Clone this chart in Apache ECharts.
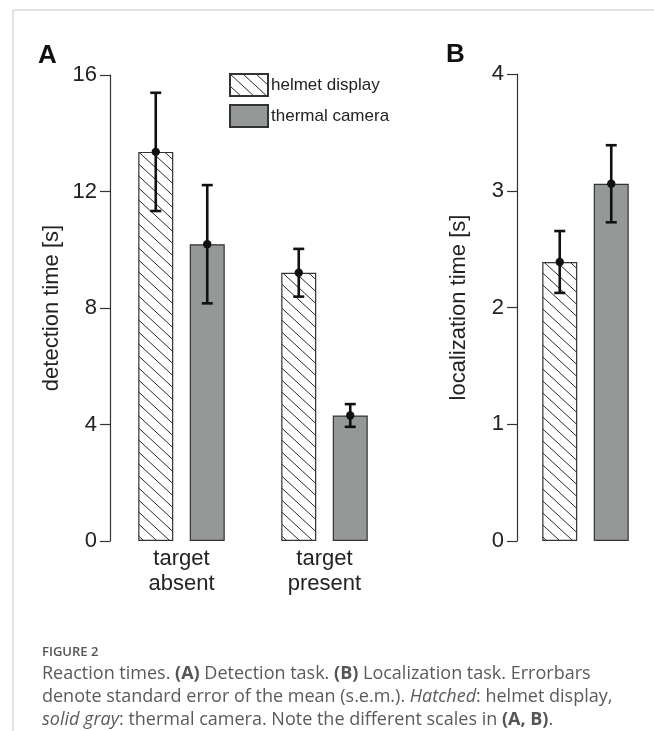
<!DOCTYPE html>
<html><head><meta charset="utf-8">
<script src="https://cdn.jsdelivr.net/npm/echarts@6/dist/echarts.min.js"></script>
<style>html,body{margin:0;padding:0;background:#fff}#c{width:654px;height:731px}</style>
</head><body><div id="c"></div>
<script>
// ---- data ----
const categoriesA = ['target\nabsent', 'target\npresent'];
const categoriesB = [''];
const seriesNames = ['helmet display', 'thermal camera'];
const helmetA = [13.36, 9.21];
const helmetAErr = [2.03, 0.82];
const thermalA = [10.19, 4.31];
const thermalAErr = [2.03, 0.39];
const helmetB = [2.39];
const helmetBErr = [0.265];
const thermalB = [3.06];
const thermalBErr = [0.33];
const ticksA = [0, 4, 8, 12, 16];
const ticksB = [0, 1, 2, 3, 4];

// ---- style ----
const FONT = 'Liberation Sans, Arial, sans-serif';
const GRAY = '#949896';
const BAR_W = 35, GAP_PX = 16.5;
const OFF = (BAR_W + GAP_PX) / 2;

function hatch() {
  const w = 13, h = 12;
  const c = document.createElement('canvas');
  c.width = w; c.height = h;
  const g = c.getContext('2d');
  g.fillStyle = '#fff'; g.fillRect(0, 0, w, h);
  g.strokeStyle = '#2a2a2a'; g.lineWidth = 1;
  g.beginPath();
  g.moveTo(-w, -h); g.lineTo(2 * w, 2 * h);
  g.moveTo(-w, 0); g.lineTo(w, 2 * h);
  g.moveTo(0, -h); g.lineTo(2 * w, h);
  g.stroke();
  return c;
}
const HATCH = { image: hatch(), repeat: 'repeat' };

function errRender(offset) {
  return function (params, api) {
    const x = api.value(0), m = api.value(1), e = api.value(2);
    const t = api.coord([x, m + e]), b = api.coord([x, m - e]), c = api.coord([x, m]);
    const cx = c[0] + offset;
    const st = { stroke: '#111', lineWidth: 2.6 };
    return { type: 'group', children: [
      { type: 'line', shape: { x1: cx, y1: t[1], x2: cx, y2: b[1] }, style: st },
      { type: 'line', shape: { x1: cx - 5.5, y1: t[1], x2: cx + 5.5, y2: t[1] }, style: st },
      { type: 'line', shape: { x1: cx - 5.5, y1: b[1], x2: cx + 5.5, y2: b[1] }, style: st },
      { type: 'circle', shape: { cx: cx, cy: c[1], r: 4.2 }, style: { fill: '#111' } }
    ]};
  };
}
function errData(vals, errs) { return vals.map((v, i) => [i, v, errs[i]]); }

function yAxis(ticks, name, idx) {
  return {
    type: 'value', gridIndex: idx, min: ticks[0], max: ticks[ticks.length - 1],
    interval: ticks[1] - ticks[0], name: name, nameLocation: 'middle', nameGap: 47,
    nameTextStyle: { fontSize: 22, color: '#222', fontFamily: FONT },
    axisLine: { show: true, lineStyle: { color: '#333', width: 1.2 } },
    axisTick: { show: true, length: 10, lineStyle: { color: '#333', width: 1.2 } },
    axisLabel: { fontSize: 22, color: '#222', margin: 13, fontFamily: FONT },
    splitLine: { show: false }
  };
}
function xAxis(cats, idx, show) {
  return {
    type: 'category', gridIndex: idx, data: cats,
    axisLine: { show: false }, axisTick: { show: false },
    axisLabel: { show: show, fontSize: 22, lineHeight: 25, color: '#222', margin: 5, fontFamily: FONT }
  };
}
function bars(name, vals, idx, fill) {
  return {
    type: 'bar', name: name, xAxisIndex: idx, yAxisIndex: idx, data: vals,
    barWidth: BAR_W, barGap: (GAP_PX / BAR_W * 100) + '%',
    itemStyle: { color: fill, borderColor: '#333', borderWidth: 1.2 },
    emphasis: { disabled: true }, animation: false
  };
}
function errs(vals, e, idx, offset) {
  return {
    type: 'custom', xAxisIndex: idx, yAxisIndex: idx, data: errData(vals, e),
    renderItem: errRender(offset), z: 10, animation: false,
    encode: { x: 0, y: 1 }
  };
}

const chart = echarts.init(document.getElementById('c'), null, { renderer: 'canvas' });
chart.setOption({
  backgroundColor: '#fff',
  animation: false,
  grid: [
    { left: 110, top: 75, width: 286, height: 466 },
    { left: 517, top: 74, width: 139, height: 467 }
  ],
  xAxis: [xAxis(categoriesA, 0, true), xAxis(categoriesB, 1, false)],
  yAxis: [yAxis(ticksA, 'detection time [s]', 0), yAxis(ticksB, 'localization time [s]', 1)],
  legend: {
    data: seriesNames, orient: 'vertical', left: 229, top: 73, padding: 0,
    itemWidth: 38, itemHeight: 22, itemGap: 7, icon: 'rect', selectedMode: false,
    textStyle: { fontSize: 17, color: '#222', fontFamily: FONT, padding: [0, 0, 0, -2] }
  },
  series: [
    bars(seriesNames[0], helmetA, 0, HATCH),
    bars(seriesNames[1], thermalA, 0, GRAY),
    errs(helmetA, helmetAErr, 0, -OFF),
    errs(thermalA, thermalAErr, 0, OFF),
    bars(seriesNames[0], helmetB, 1, HATCH),
    bars(seriesNames[1], thermalB, 1, GRAY),
    errs(helmetB, helmetBErr, 1, -OFF),
    errs(thermalB, thermalBErr, 1, OFF)
  ],
  graphic: [
    { type: 'line', shape: { x1: 13, y1: 10, x2: 654, y2: 10 }, style: { stroke: '#d8d8d8', lineWidth: 1.5 } },
    { type: 'line', shape: { x1: 13, y1: 10, x2: 13, y2: 731 }, style: { stroke: '#d8d8d8', lineWidth: 1.5 } },
    { type: 'text', x: 38, y: 56, style: { text: 'A', font: 'bold 26px ' + FONT, fill: '#111', textVerticalAlign: 'middle' } },
    { type: 'text', x: 446, y: 55, style: { text: 'B', font: 'bold 26px ' + FONT, fill: '#111', textVerticalAlign: 'middle' } },
    { type: 'text', x: 42, y: 652, style: { text: 'FIGURE 2', font: '600 13px Open Sans', fill: '#555', textVerticalAlign: 'middle' } },
    { type: 'text', x: 42, y: 662, style: {
      text: 'Reaction times. {b|(A)} Detection task. {b|(B)} Localization task. Errorbars\n' +
            'denote standard error of the mean (s.e.m.). {i|Hatched}: helmet display,\n' +
            '{i|solid gray}: thermal camera. Note the different scales in {b|(A, B)}.',
      font: '18px Open Sans', fill: '#5a5a5a', lineHeight: 23, textVerticalAlign: 'top',
      rich: {
        b: { fontFamily: 'Open Sans', fontSize: 18, fontWeight: 'bold', fill: '#555', lineHeight: 23 },
        i: { fontFamily: 'Open Sans', fontSize: 18, fontStyle: 'italic', fill: '#5a5a5a', lineHeight: 23 }
      }
    } }
  ]
});
</script>
</body></html>
